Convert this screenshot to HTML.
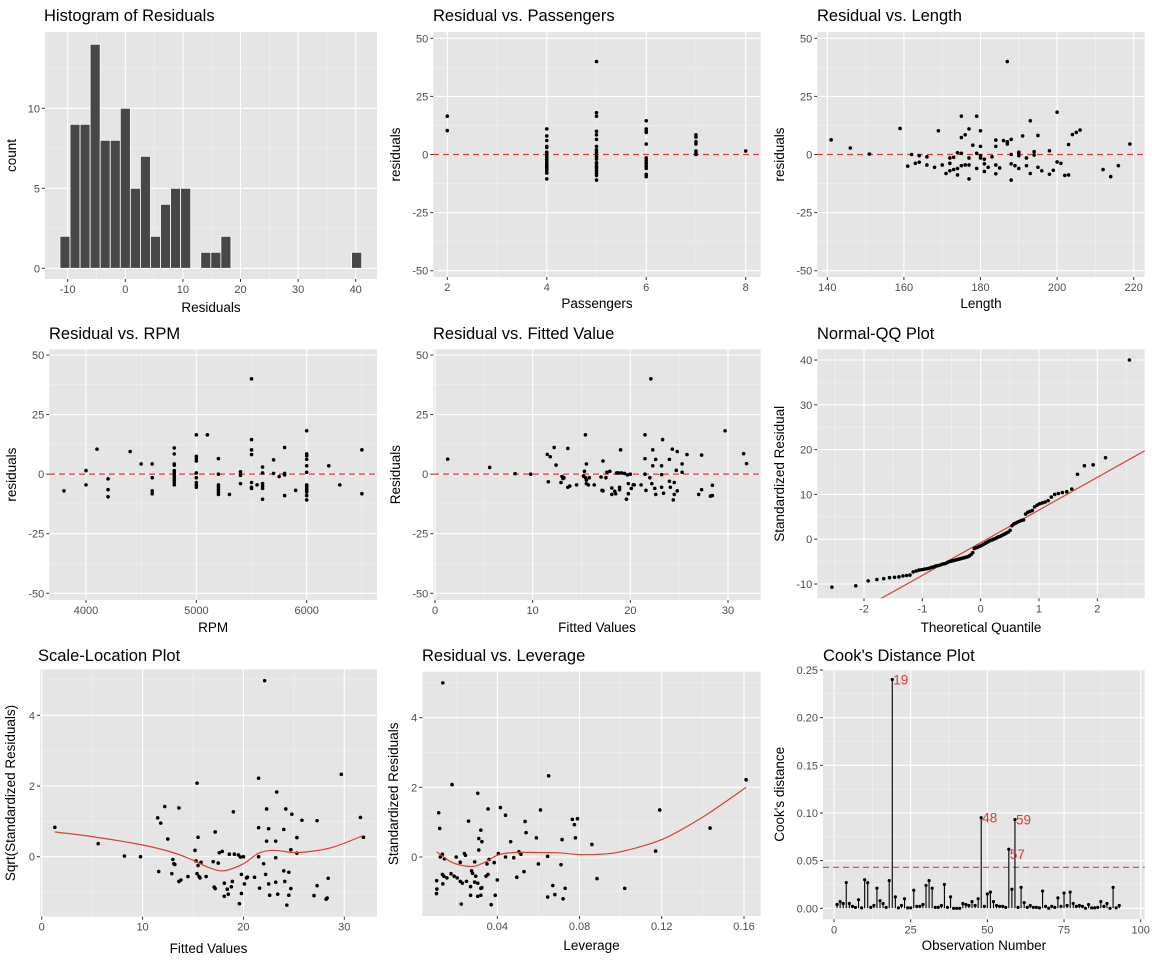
<!DOCTYPE html>
<html><head><meta charset="utf-8"><style>
html,body{margin:0;padding:0;background:#fff;}
svg{display:block;font-family:"Liberation Sans",Arial,sans-serif;}
</style></head><body>
<svg id="chart" width="1152" height="960" viewBox="0 0 1152 960" xmlns="http://www.w3.org/2000/svg"></svg>
<script>
// ---------- DATA ----------
const histCounts=[2,9,9,14,8,8,10,5,7,2,4,5,5,0,1,1,2,0,0,0,0,0,0,0,0,0,0,0,0,1];
const histFirstCenter=-10.47, histBinWidth=1.746;

const passX=[2,2,4,4,4,4,4,4,4,4,4,4,4,4,4,4,4,4,4,4,5,5,5,5,5,5,5,5,5,5,5,5,5,5,5,5,5,5,5,5,5,6,6,6,6,6,6,6,6,6,6,6,6,6,6,7,7,7,7,7,7,7,8];
const passY=[16.5,10.3,11,8,6,3.5,3,1,0,-1,-2,-3,-4,-4.5,-5,-5.5,-6,-7,-8,-10.5,40,18,16.5,10,8.5,6.5,3.5,2,1,0,-1,-2,-3.5,-4,-5,-5.5,-6,-7,-8,-9,-11,14.5,11,10,9.5,4.5,-1.5,-2.5,-3.5,-4,-5,-6,-8.5,-9,-9.5,8.5,7.5,5.5,4.5,1.5,0.5,0,1.5];

const lenX=[141,146,151,159,161,162,163,164,164,166,166,168,169,170,171,172,172,172,173,173,174,174,174,175,175,175,175,176,176,177,177,177,177,178,179,179,179,180,180,180,180,181,181,181,182,183,184,184,184,184,185,186,187,187,187,188,188,188,188,189,190,190,190,190,191,192,192,193,193,194,194,195,195,196,198,198,199,200,200,201,202,203,203,204,205,206,212,214,216,219];
const lenY=[6.3,2.8,0.2,11.2,-5,0,-3.8,-0.5,-3.3,-1,-4.5,-5.5,10.2,-4.5,-8.2,-1.5,-3.8,-7,-1.2,-6.5,0.8,-6,-8.8,16.5,7.3,0.5,-4.8,8.5,-4.5,11,-1.5,-4.5,-10.5,4,16.5,0.5,-6,10.2,3.5,-0.5,-1.5,-2,-4,-7.3,-5.5,-1,6.2,3.5,-4.5,-8.3,-5.8,6,40,5.5,4.5,6.5,0,-4,-11,-4.8,1,0.5,-0.5,-6,8,-1.5,-4.8,14.5,-8.2,1.2,-0.2,8.2,-5.5,-7,1.6,-8.5,-6.8,18.2,-3.2,-3.8,-9,4.3,-8.8,8.6,9.5,10.5,-6.5,-9.5,-4.8,4.5];

const rpmX=[3800,4000,4000,4100,4200,4200,4200,4400,4500,4600,4600,4600,4600,4800,4800,4800,4800,4800,4800,4800,4800,4800,4800,4800,5000,5000,5000,5000,5000,5000,5000,5000,5000,5100,5200,5200,5200,5200,5200,5200,5200,5300,5400,5400,5400,5400,5500,5500,5500,5500,5500,5500,5500,5550,5600,5600,5600,5600,5600,5600,5700,5700,5750,5800,5800,5800,5800,5900,6000,6000,6000,6000,6000,6000,6000,6000,6000,6000,6000,6000,6000,6200,6300,6500,6500];
const rpmY=[-7,1.5,-4.5,10.5,-2,-6.5,-9.5,9.5,4.3,4.3,-1.5,-7,-8.2,11,8.5,4.3,3.8,1.5,0.5,-0.5,-1.5,-2.5,-3.5,-4.5,16.5,7.5,6.5,5.5,0.5,-1.5,-3.5,-4.5,-5.5,16.5,6.5,0,-4.5,-5.5,-6.5,-7.5,-8.5,-8.5,1,0,-0.5,-4,40,14.5,10.2,8.2,-3.5,-5.5,-6,-4.5,3,0.5,-4,-5,-6,-10.5,6,0.3,-1,11.2,0.3,-0.3,-9,-6.8,18.2,8.5,7.7,6.2,3.5,0.8,-4.5,-5.2,-6,-6.8,-7.5,-9,-10.8,3.5,-4.5,10.2,-8.2];

const fitX=[1.3,5.6,8.2,9.8,11.5,11.6,11.8,12.2,12.4,12.9,13,13.1,13.2,13.6,13.6,13.8,14.5,15.2,15.3,15.4,15.4,15.5,15.5,15.5,15.7,15.8,16.3,17,17.1,17.2,17.2,17.5,17.6,17.9,18.1,18.1,18.4,18.5,18.6,18.8,18.9,18.9,19,19.1,19.4,19.6,19.7,19.8,19.8,20,20.1,20.3,20.4,21.1,21.5,21.5,21.5,21.6,22,22.1,22.2,22.3,22.3,22.5,22.6,22.6,23.2,23.3,23.2,23.2,23.4,24,24,24.1,24.3,24.4,24.5,24.5,24.7,24.8,24.8,25.3,25.3,25.8,27,27.3,27.3,28.2,28.4,28.4,29.7,31.6,31.9];
const fitY=[6.3,2.8,0.2,0,8.3,-3.2,7.3,11.2,3.8,-3.5,-1,-1.8,-1.5,10.8,-5.5,-5,-4.5,-0.8,1.2,16.5,-1.5,-2.5,4.3,-4,-4.5,-1.5,-4.5,-1.2,-6.8,5.5,-7,-1.5,0.8,1.2,-5.8,-8.5,-7.2,-8.2,0.5,0.5,-6.5,-5.5,10.2,0.5,0.3,-10.5,-0.3,-8.2,-4,0,-6,-4.5,-4.5,-4.5,16.5,6.5,0,-6.8,-1.5,40,-4,10.2,3.5,-6,6.2,-8.5,-0.2,14.5,3.5,-5.5,-8,6.2,-3,-5.5,10.5,-10.8,-3.5,-8.5,1.6,-7,9.5,4.3,0.8,8.2,-8.5,8,-6.5,-9.2,-9,-4.7,18.2,8.6,4.4];

const qqResid=[-10.7,-10.4,-9.3,-9.0,-8.8,-8.6,-8.5,-8.4,-8.2,-8.1,-8.0,-7.3,-7.1,-6.9,-6.8,-6.7,-6.6,-6.5,-6.3,-6.2,-6.0,-5.9,-5.8,-5.6,-5.5,-5.4,-5.2,-5.0,-4.9,-4.8,-4.7,-4.6,-4.5,-4.4,-4.3,-4.2,-4.1,-4.0,-3.9,-3.7,-3.4,-3.0,-2.1,-1.9,-1.8,-1.6,-1.5,-1.3,-1.1,-0.9,-0.7,-0.5,-0.3,-0.2,0,0.1,0.3,0.5,0.6,0.8,1.0,1.2,1.4,1.6,2.0,3.0,3.4,3.6,3.8,4.0,4.2,4.3,5.6,6.0,6.2,6.4,7.2,7.6,7.9,8.1,8.3,8.6,9.4,10.0,10.2,10.4,10.6,11.2,14.5,16.4,16.6,18.2,40];
const qqLineIntercept=-0.78, qqLineSlope=7.29;

const slX=[1.3,5.6,8.2,9.8,11.5,11.6,11.8,12.2,12.5,12.9,13,13.1,13.2,13.6,13.6,13.8,14.5,15.2,15.3,15.4,15.4,15.5,15.5,15.6,15.7,15.8,16.3,17,17.1,17.2,17.2,17.5,17.6,17.9,18.1,18.1,18.4,18.5,18.6,18.8,18.9,19,19.1,19.5,19.6,19.7,19.8,19.8,20,20.1,20.3,20.4,21.1,21.5,21.5,21.5,21.6,22,22.1,22.2,22.3,22.3,22.5,22.5,22.6,23.2,23.3,23.2,23.2,23.4,24,24,24.1,24.2,24.3,24.5,24.5,24.7,24.7,24.8,25.3,25.3,25.8,27,27.3,27.3,28.2,28.3,28.4,29.7,31.6,31.9];
const slY=[0.83,0.37,0.02,0,1.1,-0.42,0.95,1.42,0.5,-0.48,-0.08,-0.2,-0.22,1.38,-0.7,-0.66,-0.56,0.18,-0.12,2.08,-0.48,0.55,-0.25,-0.56,-0.6,-0.16,-0.56,-0.14,-0.86,0.7,-0.9,-0.18,0.11,0.15,-0.75,-1.12,-0.92,-1.06,0.07,-0.85,-0.7,1.27,0.07,0.05,-1.33,-0.01,-0.5,-1.04,0,-0.77,-0.6,-0.58,-0.58,2.22,0.82,0,-0.89,-0.2,4.98,-0.5,1.35,0.44,-0.77,0.79,-1.09,-0.03,1.83,0.44,-0.72,-1.06,0.77,-0.4,-0.7,1.35,-1.37,-0.44,-1.09,0.2,-0.9,1.2,0.54,0.1,1.03,-1.1,1.02,-0.82,-1.2,-1.17,-0.61,2.33,1.11,0.55];
const slSmoothX=[1.3,5,10,13,15,16.5,18,20,21.5,23,25,27,29,31.9];
const slSmoothY=[0.7,0.57,0.33,0.12,-0.1,-0.3,-0.4,-0.2,0.1,0.18,0.12,0.16,0.28,0.6];

const levX=[0.0135,0.018,0.0305,0.065,0.161,0.0115,0.012,0.0123,0.0133,0.0143,0.0105,0.0106,0.0104,0.0133,0.014,0.0135,0.0155,0.0175,0.019,0.02,0.0205,0.022,0.022,0.023,0.0225,0.024,0.0245,0.025,0.026,0.027,0.027,0.0275,0.028,0.029,0.029,0.0295,0.0305,0.0305,0.031,0.031,0.032,0.0325,0.032,0.032,0.0325,0.0345,0.0355,0.035,0.0355,0.036,0.037,0.0385,0.039,0.0405,0.040,0.0415,0.044,0.044,0.0465,0.048,0.0495,0.0505,0.0515,0.053,0.0535,0.054,0.059,0.06,0.061,0.0645,0.0645,0.067,0.068,0.071,0.0715,0.072,0.073,0.0765,0.0775,0.078,0.079,0.086,0.0885,0.102,0.117,0.119,0.1435];
const levY=[5.0,2.08,1.83,2.33,2.22,1.27,0.82,0,0.08,-0.05,-0.68,-0.92,-1.05,-0.5,-0.55,-0.77,-0.6,-0.48,-0.55,0,-0.6,-0.7,-0.15,-0.75,-1.35,0.1,0.05,-0.7,1.03,-0.85,-1.1,-0.4,-0.47,-0.14,-0.72,-0.55,-0.75,-1.13,0.2,0.53,0.77,0.44,-0.9,-1.1,-0.88,-0.55,1.38,-0.2,-0.5,-0.07,-1.37,-0.16,-1.1,0.1,-0.66,1.42,1.2,0,0.44,-0.02,-0.58,0.15,0.08,-0.42,1.02,0.7,0.55,-0.2,1.35,0.02,-1.15,-0.82,-1.08,-0.22,0.5,-1.2,-0.9,1.08,0.93,0.55,1.1,0.36,-0.62,-0.9,0.17,1.35,0.83];
const levSmoothX=[0.0105,0.015,0.02,0.028,0.034,0.04,0.048,0.06,0.07,0.08,0.09,0.1,0.12,0.14,0.161];
const levSmoothY=[0.15,-0.05,-0.2,-0.27,-0.15,0.05,0.13,0.13,0.12,0.07,0.08,0.15,0.5,1.15,2.0];

const cookD=[0.004,0.007,0.005,0.027,0.005,0.002,0.001,0.009,0.0005,0.03,0.027,0.001,0.003,0.021,0.008,0.005,0.001,0.029,0.24,0.012,0.0005,0.003,0.010,0.0005,0.0005,0.019,0.002,0.002,0.004,0.024,0.029,0.021,0.001,0.001,0.003,0.025,0.001,0.012,0,0,0,0.005,0.004,0.003,0.007,0.003,0.010,0.095,0.002,0.015,0.017,0.007,0.003,0.002,0.002,0.001,0.062,0.020,0.093,0.001,0.022,0.006,0.001,0.003,0.001,0.001,0.0005,0.018,0.002,0,0.002,0.001,0.011,0.002,0.016,0.003,0.017,0.005,0.002,0.003,0.002,0,0.004,0.0005,0.0005,0.001,0.007,0.002,0.005,0,0.022,0.0005,0.003];
const cookThreshold=0.043;
const cookLabels=[19,48,59,57];

// ---------- DRAW HELPERS ----------
const NS="http://www.w3.org/2000/svg";
const svg=document.getElementById('chart');
const RED="#D7403A";
function mk(tag,attrs,parent){const e=document.createElementNS(NS,tag);for(const k in attrs)e.setAttribute(k,attrs[k]);(parent||svg).appendChild(e);return e;}
function lin(d0,p0,d1,p1){return v=>p0+(v-d0)*(p1-p0)/(d1-d0);}
function fmt(v){return String(v);}

function panel(cfg){
  const g=mk('g',{});
  
  
  const [x0,y0,x1,y1]=cfg.box;
  const bg=mk('rect',{x:x0,y:y0,width:x1-x0,height:y1-y0,fill:'#E5E5E5'},g);
  
  
  const X=cfg.X,Y=cfg.Y;
  cfg.xmin.forEach(v=>{const p=X(v);if(p>x0&&p<x1)mk('line',{x1:p,x2:p,y1:y0,y2:y1,stroke:'#F2F2F2','stroke-width':0.6},g);});
  cfg.ymin.forEach(v=>{const p=Y(v);if(p>y0&&p<y1)mk('line',{x1:x0,x2:x1,y1:p,y2:p,stroke:'#F2F2F2','stroke-width':0.6},g);});
  cfg.xmaj.forEach(v=>{const p=X(v);mk('line',{x1:p,x2:p,y1:y0,y2:y1,stroke:'#fff','stroke-width':1.1},g);});
  cfg.ymaj.forEach(v=>{const p=Y(v);mk('line',{x1:x0,x2:x1,y1:p,y2:p,stroke:'#fff','stroke-width':1.1},g);});
  cfg.xmaj.forEach((v,i)=>{const p=X(v);
    mk('line',{x1:p,x2:p,y1:y1,y2:y1+3,stroke:'#333','stroke-width':1},g);
    const t=mk('text',{x:p,y:y1+14,'text-anchor':'middle','font-size':11,fill:'#4D4D4D'},g);
    t.textContent=cfg.xlab?cfg.xlab[i]:fmt(v);
    
    });
  cfg.ymaj.forEach((v,i)=>{const p=Y(v);
    mk('line',{x1:x0-3,x2:x0,y1:p,y2:p,stroke:'#333','stroke-width':1},g);
    const t=mk('text',{x:x0-5,y:p+4,'text-anchor':'end','font-size':11,fill:'#4D4D4D'},g);
    t.textContent=cfg.ylab?cfg.ylab[i]:fmt(v);
    
    });
  const tt=mk('text',{x:cfg.titleX,y:cfg.titleY,'font-size':16.5,fill:'#000'},g);
  tt.textContent=cfg.title;
  
  
  const xt=mk('text',{x:(x0+x1)/2,y:cfg.xtY,'text-anchor':'middle','font-size':13.5,fill:'#000'},g);
  xt.textContent=cfg.xt;
  
  
  const yc=(y0+y1)/2;
  const yt=mk('text',{x:cfg.ytX,y:yc,'text-anchor':'middle','font-size':13.5,fill:'#000',transform:`rotate(-90 ${cfg.ytX} ${yc})`},g);
  yt.textContent=cfg.yt;
  
  
  const clip='c'+cfg.name;
  const cp=mk('clipPath',{id:clip},g);mk('rect',{x:x0,y:y0,width:x1-x0,height:y1-y0},cp);
  const marks=mk('g',{'clip-path':`url(#${clip})`},g);
  
  
  return marks;
}
function dots(g,xs,ys,X,Y){xs.forEach((v,i)=>{const c=mk('circle',{cx:X(v),cy:Y(ys[i]),r:1.8,fill:'#000'},g);
  
  });}
function hline(g,v,X0,X1,Y){const l=mk('line',{x1:X0,x2:X1,y1:Y(v),y2:Y(v),stroke:RED,'stroke-width':1.2,'stroke-dasharray':'6 4'},g);
  
  }
function curve(g,xs,ys,X,Y){
  const P=xs.map((v,i)=>[X(v),Y(ys[i])]);
  let d='M'+P[0][0].toFixed(1)+' '+P[0][1].toFixed(1);
  for(let i=0;i<P.length-1;i++){
    const p0=P[Math.max(0,i-1)],p1=P[i],p2=P[i+1],p3=P[Math.min(P.length-1,i+2)];
    const c1=[p1[0]+(p2[0]-p0[0])/6,p1[1]+(p2[1]-p0[1])/6];
    const c2=[p2[0]-(p3[0]-p1[0])/6,p2[1]-(p3[1]-p1[1])/6];
    d+=` C${c1[0].toFixed(1)} ${c1[1].toFixed(1)} ${c2[0].toFixed(1)} ${c2[1].toFixed(1)} ${p2[0].toFixed(1)} ${p2[1].toFixed(1)}`;
  }
  const p=mk('path',{d:d,fill:'none',stroke:RED,'stroke-width':1.2,'stroke-linejoin':'round'},g);
  
  }

const residTicks=[-50,-25,0,25,50], residMinor=[-37.5,-12.5,12.5,37.5];

(function(){const X=lin(-10,67.7,40,355.7),Y=lin(0,268.3,10,108.3);
 const g=panel({name:'histogram-panel',box:[45,32,377,279],X,Y,xmaj:[-10,0,10,20,30,40],xmin:[-5,5,15,25,35],ymaj:[0,5,10],ymin:[2.5,7.5,12.5],
  title:'Histogram of Residuals',titleX:44,titleY:21,xt:'Residuals',xtY:312,yt:'count',ytX:16});
 histCounts.forEach((c,i)=>{if(!c)return;const cx=histFirstCenter+i*histBinWidth;
  const xa=X(cx-histBinWidth/2),xb=X(cx+histBinWidth/2);
  const r=mk('rect',{x:xa,y:Y(c),width:xb-xa,height:Y(0)-Y(c),fill:'#474747',stroke:'#fff','stroke-width':0.8},g);
  
  });})();

(function(){const X=lin(2,447.3,8,745.7),Y=lin(50,38.3,-50,270.7);
 const g=panel({name:'passengers-panel',box:[433.3,32,760.7,277],X,Y,xmaj:[2,4,6,8],xmin:[3,5,7],ymaj:residTicks,ymin:residMinor,
  title:'Residual vs. Passengers',titleX:433,titleY:21,xt:'Passengers',xtY:308,yt:'residuals',ytX:400});
 hline(g,0,433,761,Y);dots(g,passX,passY,X,Y);})();

(function(){const X=lin(140,827.3,220,1133.7),Y=lin(50,38.3,-50,270.7);
 const g=panel({name:'length-panel',box:[817.3,32,1144.7,277],X,Y,xmaj:[140,160,180,200,220],xmin:[150,170,190,210],ymaj:residTicks,ymin:residMinor,
  title:'Residual vs. Length',titleX:817,titleY:21,xt:'Length',xtY:308,yt:'residuals',ytX:784});
 hline(g,0,817,1145,Y);dots(g,lenX,lenY,X,Y);})();

(function(){const X=lin(4000,86,6000,306.7),Y=lin(50,355,-50,593.3);
 const g=panel({name:'rpm-panel',box:[49.3,349.3,377,600],X,Y,xmaj:[4000,5000,6000],xmin:[3500,4500,5500,6500],ymaj:residTicks,ymin:residMinor,
  title:'Residual vs. RPM',titleX:49,titleY:339,xt:'RPM',xtY:632,yt:'residuals',ytX:16});
 hline(g,0,49,377,Y);dots(g,rpmX,rpmY,X,Y);})();

(function(){const X=lin(0,435,30,728),Y=lin(50,355,-50,593.3);
 const g=panel({name:'fitted-panel',box:[433.3,349.3,760.7,600],X,Y,xmaj:[0,10,20,30],xmin:[5,15,25],ymaj:residTicks,ymin:residMinor,
  title:'Residual vs. Fitted Value',titleX:433,titleY:339,xt:'Fitted Values',xtY:632,yt:'Residuals',ytX:400});
 hline(g,0,433,761,Y);dots(g,fitX,fitY,X,Y);})();

function qnorm(p){
 const a=[-39.69683028665376,220.9460984245205,-275.9285104469687,138.357751867269,-30.66479806614716,2.506628277459239];
 const b=[-54.47609879822406,161.5858368580409,-155.6989798598866,66.80131188771972,-13.28068155288572];
 const c=[-0.007784894002430293,-0.3223964580411365,-2.400758277161838,-2.549732539343734,4.374664141464968,2.938163982698783];
 const d=[0.007784695709041462,0.3224671290700398,2.445134137142996,3.754408661907416];
 let q,r;
 if(p<0.02425){q=Math.sqrt(-2*Math.log(p));return (((((c[0]*q+c[1])*q+c[2])*q+c[3])*q+c[4])*q+c[5])/((((d[0]*q+d[1])*q+d[2])*q+d[3])*q+1);}
 if(p>1-0.02425){q=Math.sqrt(-2*Math.log(1-p));return -(((((c[0]*q+c[1])*q+c[2])*q+c[3])*q+c[4])*q+c[5])/((((d[0]*q+d[1])*q+d[2])*q+d[3])*q+1);}
 q=p-0.5;r=q*q;return (((((a[0]*r+a[1])*r+a[2])*r+a[3])*r+a[4])*r+a[5])*q/(((((b[0]*r+b[1])*r+b[2])*r+b[3])*r+b[4])*r+1);
}
(function(){const X=lin(-2,864,2,1097.3),Y=lin(40,360,-10,584);
 const g=panel({name:'qq-panel',box:[817.3,349.3,1144.7,598.3],X,Y,xmaj:[-2,-1,0,1,2],xmin:[-2.5,-1.5,-0.5,0.5,1.5,2.5],ymaj:[-10,0,10,20,30,40],ymin:[-5,5,15,25,35],
  title:'Normal-QQ Plot',titleX:817,titleY:339,xt:'Theoretical Quantile',xtY:632,yt:'Standardized Residual',ytX:784});
 const n=qqResid.length;const sorted=qqResid.slice().sort((a,b)=>a-b);
 const th=sorted.map((v,i)=>qnorm((i+0.5)/n));
 const l=mk('line',{x1:X(-3),y1:Y(qqLineIntercept-3*qqLineSlope),x2:X(3),y2:Y(qqLineIntercept+3*qqLineSlope),stroke:RED,'stroke-width':1.2},g);
 
 
 dots(g,th,sorted,X,Y);})();

(function(){const X=lin(0,41.7,30,344.3),Y=lin(4,715.3,0,856.7);
 const g=panel({name:'scale-location-panel',box:[40,669.3,377,916.7],X,Y,xmaj:[0,10,20,30],xmin:[5,15,25],ymaj:[0,2,4],ymin:[-1,1,3,5],
  title:'Scale-Location Plot',titleX:38,titleY:661,xt:'Fitted Values',xtY:953,yt:'Sqrt(Standardized Residuals)',ytX:15});
 dots(g,slX,slY,X,Y);curve(g,slSmoothX,slSmoothY,X,Y);})();

(function(){const X=lin(0.04,497.3,0.16,744),Y=lin(4,717.7,0,857);
 const g=panel({name:'leverage-panel',box:[422.3,671.7,760.7,916],X,Y,xmaj:[0.04,0.08,0.12,0.16],xmin:[0.02,0.06,0.10,0.14],ymaj:[0,2,4],ymin:[-1,1,3,5],
  title:'Residual vs. Leverage',titleX:422,titleY:661,xt:'Leverage',xtY:950,yt:'Standardized Residuals',ytX:398});
 dots(g,levX,levY,X,Y);curve(g,levSmoothX,levSmoothY,X,Y);})();

(function(){const X=lin(0,834,100,1140.7),Y=lin(0,908.3,0.25,670);
 const g=panel({name:'cooks-distance-panel',box:[823,669.3,1144.7,919.3],X,Y,xmaj:[0,25,50,75,100],xmin:[12.5,37.5,62.5,87.5],ymaj:[0,0.05,0.1,0.15,0.2,0.25],ymin:[0.025,0.075,0.125,0.175,0.225],
  ylab:['0.00','0.05','0.10','0.15','0.20','0.25'],
  title:"Cook's Distance Plot",titleX:823,titleY:661,xt:'Observation Number',xtY:950,yt:"Cook's distance",ytX:784});
 hline(g,cookThreshold,823,1145,Y);
 cookD.forEach((v,i)=>{const x=X(i+1);
  const s=mk('line',{x1:x,x2:x,y1:Y(0),y2:Y(v),stroke:'#000','stroke-width':1.1},g);
  
  
  const c=mk('circle',{cx:x,cy:Y(v),r:1.6,fill:'#000'},g);
  
  });
 cookLabels.forEach(o=>{const v=cookD[o-1];
  const t=mk('text',{x:X(o)+1,y:Y(v)+(o===57?10:5),'font-size':13.5,fill:RED},g);
  t.textContent=String(o);
  
  });})();
</script>
</body></html>
